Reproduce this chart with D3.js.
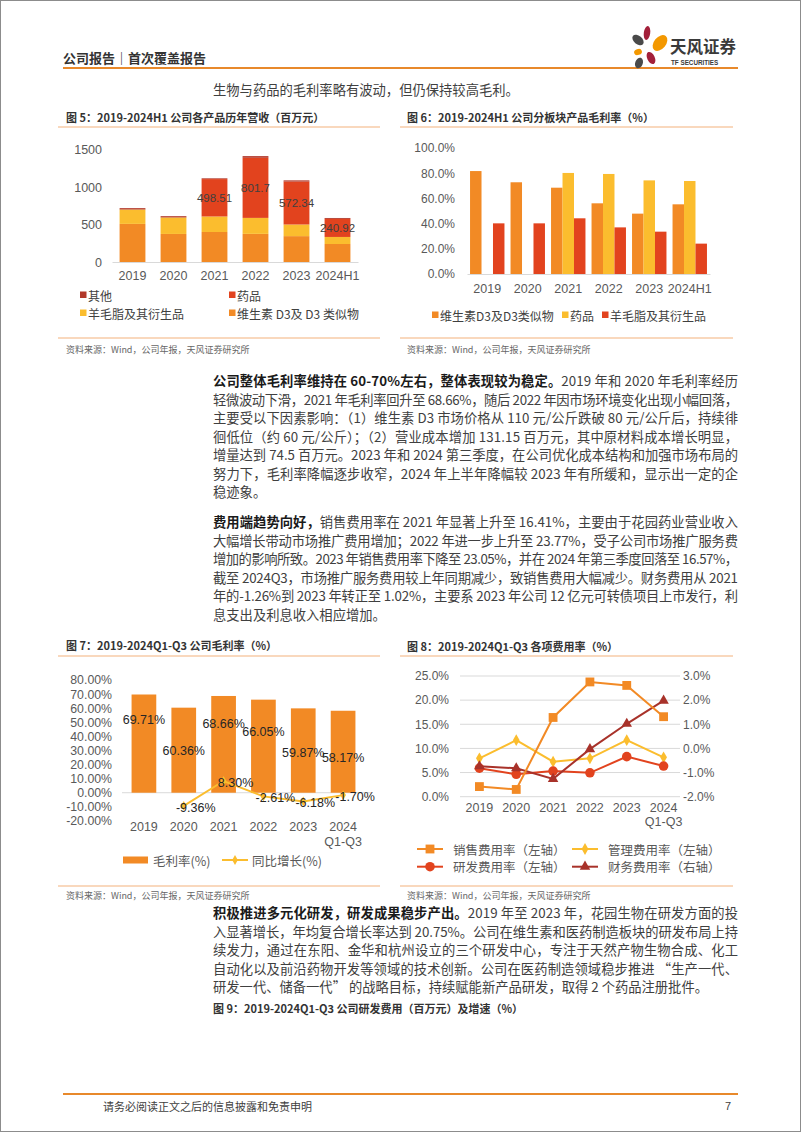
<!DOCTYPE html>
<html><head><meta charset="utf-8">
<script src="https://cdn.jsdelivr.net/npm/d3@7"></script>
<style>
body{margin:0;background:#fff;}
svg{display:block;}
</style></head>
<body><div id="page"></div>
<script>
// ---------- DATA ----------
const revYears = ["2019","2020","2021","2022","2023","2024H1"];
const revD3 = [508, 374, 400, 375, 345, 240];
const revLanolin = [192, 220, 207, 213, 155, 94];
const revDrug = [0, 0, 498.51, 801.7, 572.34, 240.92];
const revOther = [18, 17, 10, 22, 16, 12];
const revTicks = [0, 500, 1000, 1500];

const gmYears = ["2019","2020","2021","2022","2023","2024H1"];
const gmD3 = [81.7, 72.8, 68.5, 56.1, 47.9, 55.3];
const gmDrug = [null, null, 80.2, 79.4, 74.3, 73.8];
const gmLanolin = [40.2, 40.2, 44.2, 37.0, 33.6, 24.1];
const gmTicks = [0, 20, 40, 60, 80, 100];

const gpYears = ["2019","2020","2021","2022","2023","2024\nQ1-Q3"];
const gpRate = [69.71, 60.36, 68.66, 66.05, 59.87, 58.17];
const gpYoy = [null, -9.36, 8.30, -2.61, -6.18, -1.70];
const gpTicks = [-20, -10, 0, 10, 20, 30, 40, 50, 60, 70, 80];

const feeYears = ["2019","2020","2021","2022","2023","2024\nQ1-Q3"];
const feeSales = [2.1, 1.5, 16.41, 23.77, 23.05, 16.57];
const feeAdmin = [7.95, 11.7, 7.25, 7.95, 11.7, 8.15];
const feeRD = [5.9, 4.65, 5.3, 4.95, 8.3, 6.35];
const feeFin = [-0.74, -0.82, -1.26, -0.03, 1.02, 1.98];
const feeLeftTicks = [0, 5, 10, 15, 20, 25];
const feeRightTicks = [-2, -1, 0, 1, 2, 3];

// ---------- STYLE ----------
const LAT = "'Liberation Sans','Noto Sans CJK SC',sans-serif";
const CJK = "'Noto Sans CJK SC','Liberation Sans',sans-serif";
const C = {orange:"#F28A25", yellow:"#FBBD2E", red:"#E2431E", dark:"#B2382A",
           accent:"#E8892B", rule:"#F3B27C", axis:"#D9D9D9", tick:"#595959"};

const svg = d3.select("#page").append("svg").attr("width",802).attr("height",1133);
svg.append("rect").attr("width",802).attr("height",1133).attr("fill","#fff");
svg.append("rect").attr("x",0.5).attr("y",0.5).attr("width",800).attr("height",1131)
  .attr("fill","none").attr("stroke","#8c8c8c");

function txt(x, y, s, o = {}) {
  return svg.append("text").attr("x", x).attr("y", y).attr("dominant-baseline","central")
    .attr("font-family", o.ff || CJK).attr("font-size", o.fs || 12)
    .attr("font-weight", o.fw || "normal").attr("fill", o.fill || "#333")
    .attr("text-anchor", o.anchor || "start").text(s);
}
function hline(x1, x2, y, color, w) {
  svg.append("line").attr("x1",x1).attr("x2",x2).attr("y1",y).attr("y2",y)
    .attr("stroke",color).attr("stroke-width",w);
}

// ---------- HEADER ----------
txt(63, 57, "公司报告｜首次覆盖报告", {fs:13, fill:"#333", fw:"bold"});
hline(63, 738, 68, C.accent, 2);
const logo = svg.append("g");
[
  {cx:647, cy:33, rx:3.2, ry:7, r:8, c:"#A3203A"},
  {cx:660, cy:43, rx:6, ry:9, r:40, c:"#F39800"},
  {cx:638, cy:40, rx:4.2, ry:6.5, r:-50, c:"#4A4A4A"},
  {cx:638, cy:52, rx:4, ry:3, r:-20, c:"#F39800"},
  {cx:651, cy:58, rx:3.8, ry:6.5, r:-25, c:"#A3203A"},
  {cx:639, cy:63, rx:3.8, ry:5.5, r:20, c:"#4A4A4A"}
].forEach(p => logo.append("ellipse").attr("cx",p.cx).attr("cy",p.cy).attr("rx",p.rx).attr("ry",p.ry)
  .attr("transform",`rotate(${p.r},${p.cx},${p.cy})`).attr("fill",p.c));
txt(670, 46, "天风证券", {fs:16.5, fw:"bold", fill:"#3a3a3a"});
txt(671, 62.5, "TF SECURITIES", {fs:6.3, fw:"bold", fill:"#3a3a3a", ff:LAT});

// ---------- PARAGRAPHS ----------
function para(lines, x, y0, lh, width) {
  lines.forEach((ln, i) => {
    const t = svg.append("text").attr("x", x).attr("y", y0 + i*lh).attr("dominant-baseline","central")
      .attr("font-family", CJK).attr("font-size", 13.3).attr("fill", "#404040");
    if (ln.b) t.append("tspan").attr("font-weight","bold").attr("fill","#1a1a1a").text(ln.b);
    t.append("tspan").text(ln.t);
    if (!ln.last) t.attr("textLength", width).attr("lengthAdjust","spacing");
  });
}
para([{t:"生物与药品的毛利率略有波动，但仍保持较高毛利。", last:true}], 213, 89, 18.5, 525);

para([
  {b:"公司整体毛利率维持在 60-70%左右，整体表现较为稳定。", t:"2019 年和 2020 年毛利率经历"},
  {t:"轻微波动下滑，2021 年毛利率回升至 68.66%，随后 2022 年因市场环境变化出现小幅回落，"},
  {t:"主要受以下因素影响：（1）维生素 D3 市场价格从 110 元/公斤跌破 80 元/公斤后，持续徘"},
  {t:"徊低位（约 60 元/公斤）；（2）营业成本增加 131.15 百万元，其中原材料成本增长明显，"},
  {t:"增量达到 74.5 百万元。2023 年和 2024 第三季度，在公司优化成本结构和加强市场布局的"},
  {t:"努力下，毛利率降幅逐步收窄，2024 年上半年降幅较 2023 年有所缓和，显示出一定的企"},
  {t:"稳迹象。", last:true}
], 213, 380, 18.5, 525);

para([
  {b:"费用端趋势向好，", t:"销售费用率在 2021 年显著上升至 16.41%，主要由于花园药业营业收入"},
  {t:"大幅增长带动市场推广费用增加；2022 年进一步上升至 23.77%，受子公司市场推广服务费"},
  {t:"增加的影响所致。2023 年销售费用率下降至 23.05%，并在 2024 年第三季度回落至 16.57%，"},
  {t:"截至 2024Q3，市场推广服务费用较上年同期减少，致销售费用大幅减少。财务费用从 2021"},
  {t:"年的-1.26%到 2023 年转正至 1.02%，主要系 2023 年公司 12 亿元可转债项目上市发行，利"},
  {t:"息支出及利息收入相应增加。", last:true}
], 213, 521, 18.5, 525);

para([
  {b:"积极推进多元化研发，研发成果稳步产出。", t:"2019 年至 2023 年，花园生物在研发方面的投"},
  {t:"入显著增长，年均复合增长率达到 20.75%。公司在维生素和医药制造板块的研发布局上持"},
  {t:"续发力，通过在东阳、金华和杭州设立的三个研发中心，专注于天然产物生物合成、化工"},
  {t:"自动化以及前沿药物开发等领域的技术创新。公司在医药制造领域稳步推进 “生产一代、"},
  {t:"研发一代、储备一代” 的战略目标，持续赋能新产品研发，取得 2 个药品注册批件。", last:true}
], 213, 912, 18.5, 525);

txt(213, 1008, "图 9：2019-2024Q1-Q3 公司研发费用（百万元）及增速（%）", {fs:11, fw:"bold", fill:"#333"});

// ---------- FOOTER ----------
hline(63, 738, 1094, C.accent, 2);
txt(103, 1106, "请务必阅读正文之后的信息披露和免责申明", {fs:11, fill:"#404040"});
txt(731, 1106, "7", {fs:11, fill:"#404040", anchor:"end", ff:LAT});

// ---------- FRAME helpers ----------
function frame(x1, x2, tx, titleY, title, ruleTop, ruleBot, srcY) {
  txt(tx, titleY, title, {fs:11, fw:"bold", fill:"#333"});
  hline(x1, x2, ruleTop, C.rule, 1.2);
  hline(x1, x2, ruleBot, C.rule, 1.2);
  txt(tx, srcY, "资料来源：Wind，公司年报，天风证券研究所", {fs:9, fill:"#666"});
}
function styleAxis(g, fs) {
  g.select(".domain").remove();
  g.selectAll("text").attr("font-family", LAT).attr("font-size", fs).attr("fill", C.tick);
}
function multiLine(g, lh) {
  g.selectAll(".tick text").each(function(d) {
    const parts = String(d).split("\n");
    const t = d3.select(this); t.text(null);
    parts.forEach((p, i) => t.append("tspan").attr("x", 0).attr("dy", i === 0 ? "0.71em" : lh).text(p));
  });
}

// ---------- CHART 5 ----------
frame(58, 380, 66, 117, "图 5：2019-2024H1 公司各产品历年营收（百万元）", 127, 338, 349);
{
  const keys = ["d3","lan","drug","oth"];
  const rows = revYears.map((y,i)=>({year:y, d3:revD3[i], lan:revLanolin[i], drug:revDrug[i], oth:revOther[i]}));
  const colors = {d3:C.orange, lan:C.yellow, drug:C.red, oth:C.dark};
  const x = d3.scaleBand().domain(revYears).range([112,358]).paddingInner(0.37).paddingOuter(0.185);
  const y = d3.scaleLinear().domain([0,1500]).range([262,149.5]);
  const st = d3.stack().keys(keys)(rows);
  const g = svg.append("g");
  st.forEach(s => g.selectAll(null).data(s).join("rect")
    .attr("x", d=>x(d.data.year)).attr("width", x.bandwidth())
    .attr("y", d=>y(d[1])).attr("height", d=>Math.max(0, y(d[0])-y(d[1])))
    .attr("fill", colors[s.key]));
  const drug = st.find(s=>s.key==="drug");
  g.selectAll(null).data(drug.filter(d=>d.data.drug>0)).join("text")
    .attr("x", d=>x(d.data.year)+x.bandwidth()/2).attr("y", d=>y((d[0]+d[1])/2))
    .attr("text-anchor","middle").attr("dominant-baseline","central")
    .attr("font-family",LAT).attr("font-size",11.5).attr("fill","#404040")
    .text(d=>String(d.data.drug));
  const ya = svg.append("g").attr("transform","translate(112,0)")
    .call(d3.axisLeft(y).tickValues(revTicks).tickSize(0).tickPadding(10).tickFormat(d3.format("d")));
  styleAxis(ya, 12.5);
  const xa = svg.append("g").attr("transform","translate(0,262)")
    .call(d3.axisBottom(x).tickSize(0).tickPadding(9));
  xa.select(".domain").attr("stroke",C.axis);
  xa.selectAll("text").attr("font-family",LAT).attr("font-size",12.5).attr("fill",C.tick);
  const leg = [["其他",C.dark,80,295],["药品",C.red,229,295],["羊毛脂及其衍生品",C.yellow,80,313],["维生素 D3及 D3 类似物",C.orange,229,313]];
  leg.forEach(l => {
    svg.append("rect").attr("x",l[2]).attr("y",l[3]-3.5).attr("width",6.5).attr("height",6.5).attr("fill",l[1]);
    txt(l[2]+8, l[3], l[0], {fs:12, fill:"#404040"});
  });
}

// ---------- CHART 6 ----------
frame(400, 733, 407, 117, "图 6：2019-2024H1 公司分板块产品毛利率（%）", 127, 338, 349);
{
  const keys = ["d3","drug","lan"];
  const series = {d3:gmD3, drug:gmDrug, lan:gmLanolin};
  const colors = {d3:C.orange, drug:C.yellow, lan:C.red};
  const x = d3.scaleBand().domain(gmYears).range([467,710]).paddingInner(0.15).paddingOuter(0.075);
  const xi = d3.scaleBand().domain(keys).range([0, x.bandwidth()]);
  const y = d3.scaleLinear().domain([0,100]).range([274,148]);
  const g = svg.append("g");
  keys.forEach(k => g.selectAll(null).data(gmYears.map((yr,i)=>({yr, v:series[k][i]})).filter(d=>d.v!=null))
    .join("rect").attr("x", d=>x(d.yr)+xi(k)).attr("width", xi.bandwidth())
    .attr("y", d=>y(d.v)).attr("height", d=>y(0)-y(d.v)).attr("fill", colors[k]));
  const ya = svg.append("g").attr("transform","translate(465,0)")
    .call(d3.axisLeft(y).tickValues(gmTicks).tickSize(0).tickPadding(10).tickFormat(d=>d.toFixed(1)+"%"));
  styleAxis(ya, 12);
  const xa = svg.append("g").attr("transform","translate(0,274)")
    .call(d3.axisBottom(x).tickSize(0).tickPadding(10));
  xa.select(".domain").attr("stroke",C.axis);
  xa.selectAll("text").attr("font-family",LAT).attr("font-size",12.5).attr("fill",C.tick);
  const leg = [["维生素D3及D3类似物",C.orange,432],["药品",C.yellow,562],["羊毛脂及其衍生品",C.red,602]];
  leg.forEach(l => {
    svg.append("rect").attr("x",l[2]).attr("y",315-3.5).attr("width",6.5).attr("height",6.5).attr("fill",l[1]);
    txt(l[2]+8, 315, l[0], {fs:12, fill:"#404040"});
  });
}

// ---------- CHART 7 ----------
frame(58, 380, 66, 645, "图 7：2019-2024Q1-Q3 公司毛利率（%）", 656, 886, 895);
{
  const x = d3.scaleBand().domain(gpYears).range([124,363]).paddingInner(0.38).paddingOuter(0.19);
  const y = d3.scaleLinear().domain([-20,80]).range([820.9,680]);
  const labelY = d3.scaleLinear().domain([0,100]).range([951,620]);
  const cx = d => x(d) + x.bandwidth()/2;
  const g = svg.append("g");
  g.append("line").attr("x1",x.range()[0]-2).attr("x2",x.range()[1]+8).attr("y1",y(0)).attr("y2",y(0)).attr("stroke",C.axis);
  const rows = gpYears.map((yr,i)=>({yr, v:gpRate[i], yoy:gpYoy[i]}));
  g.selectAll(null).data(rows).join("rect").attr("x",d=>x(d.yr)).attr("width",x.bandwidth())
    .attr("y",d=>y(d.v)).attr("height",d=>y(0)-y(d.v)).attr("fill",C.orange);
  const ly = rows.filter(d=>d.yoy!=null);
  g.append("path").datum(ly).attr("fill","none").attr("stroke",C.yellow).attr("stroke-width",2)
    .attr("d", d3.line().x(d=>cx(d.yr)).y(d=>y(d.yoy)));
  g.selectAll(null).data(ly).join("path").attr("d", d3.symbol(d3.symbolDiamond, 28)())
    .attr("transform", d=>`translate(${cx(d.yr)},${y(d.yoy)})`).attr("fill",C.yellow);
  g.selectAll(null).data(rows).join("text").attr("x",d=>cx(d.yr)).attr("y",d=>labelY(d.v))
    .attr("text-anchor","middle").attr("dominant-baseline","central")
    .attr("font-family",LAT).attr("font-size",12.5).attr("fill","#262626").text(d=>d.v.toFixed(2)+"%");
  g.selectAll(null).data(ly).join("text").attr("x",d=>cx(d.yr)+12).attr("y",d=>y(d.yoy)+2)
    .attr("text-anchor","middle").attr("dominant-baseline","central")
    .attr("font-family",LAT).attr("font-size",12.5).attr("fill","#262626").text(d=>d.yoy.toFixed(2)+"%");
  const ya = svg.append("g").attr("transform","translate(122,0)")
    .call(d3.axisLeft(y).tickValues(gpTicks).tickSize(0).tickPadding(10).tickFormat(d=>d.toFixed(2)+"%"));
  styleAxis(ya, 12.3);
  const xa = svg.append("g").attr("transform",`translate(0,${y(0)})`)
    .call(d3.axisBottom(x).tickSize(0).tickPadding(0));
  xa.select(".domain").remove();
  xa.selectAll(".tick").attr("transform", d=>`translate(${cx(d)},${835.7-4.4-y(0)-8.8})`);
  multiLine(xa, "1.15em");
  xa.selectAll("text").attr("font-family",LAT).attr("font-size",12.5).attr("fill",C.tick);
  svg.append("rect").attr("x",123).attr("y",856.5).attr("width",25).attr("height",7).attr("fill",C.orange);
  txt(153, 860, "毛利率(%)", {fs:12.5, fill:C.tick});
  hline(222, 248, 860, C.yellow, 2);
  svg.append("path").attr("d", d3.symbol(d3.symbolDiamond, 28)()).attr("transform","translate(235,860)").attr("fill",C.yellow);
  txt(252, 860, "同比增长(%)", {fs:12.5, fill:C.tick});
}

// ---------- CHART 8 ----------
frame(400, 733, 407, 646, "图 8：2019-2024Q1-Q3 各项费用率（%）", 656, 886, 895);
{
  const x = d3.scaleBand().domain(feeYears).range([461,682]);
  const cx = d => x(d) + x.bandwidth()/2;
  const yL = d3.scaleLinear().domain([0,25]).range([796.7,676]);
  const yR = d3.scaleLinear().domain([-2,3]).range([796.7,676]);
  const g = svg.append("g");
  g.selectAll(null).data(feeLeftTicks).join("line").attr("x1",460).attr("x2",680)
    .attr("y1",d=>yL(d)).attr("y2",d=>yL(d)).attr("stroke",C.axis);
  const sets = [
    {vals:feeSales, y:yL, c:C.orange, sym:d3.symbolSquare, size:78, name:"销售费用率（左轴）"},
    {vals:feeAdmin, y:yL, c:C.yellow, sym:d3.symbolDiamond, size:40, name:"管理费用率（左轴）"},
    {vals:feeRD, y:yL, c:C.red, sym:d3.symbolCircle, size:72, name:"研发费用率（左轴）"},
    {vals:feeFin, y:yR, c:"#A8322A", sym:d3.symbolTriangle, size:48, name:"财务费用率（右轴）"}
  ];
  const drawOrder = [1,2,3,0];
  drawOrder.forEach(si => {
    const s = sets[si];
    const pts = feeYears.map((yr,i)=>({yr, v:s.vals[i]}));
    g.append("path").datum(pts).attr("fill","none").attr("stroke",s.c).attr("stroke-width",2)
      .attr("d", d3.line().x(d=>cx(d.yr)).y(d=>s.y(d.v)));
    g.selectAll(null).data(pts).join("path").attr("d", d3.symbol(s.sym, s.size)())
      .attr("transform", d=>`translate(${cx(d.yr)},${s.y(d.v)})`).attr("fill",s.c);
  });
  const ya = svg.append("g").attr("transform","translate(460,0)")
    .call(d3.axisLeft(yL).tickValues(feeLeftTicks).tickSize(0).tickPadding(11).tickFormat(d=>d.toFixed(1)+"%"));
  styleAxis(ya, 12);
  const yb = svg.append("g").attr("transform","translate(680,0)")
    .call(d3.axisRight(yR).tickValues(feeRightTicks).tickSize(0).tickPadding(3).tickFormat(d=>d.toFixed(1)+"%"));
  styleAxis(yb, 12);
  const xa = svg.append("g").attr("transform","translate(0,0)")
    .call(d3.axisBottom(x).tickSize(0).tickPadding(0));
  xa.select(".domain").remove();
  xa.selectAll(".tick").attr("transform", d=>`translate(${cx(d)},${811.7-4.4-8.8+4.4})`);
  multiLine(xa, "1.15em");
  xa.selectAll("text").attr("font-family",LAT).attr("font-size",12.5).attr("fill",C.tick);
  const pos = [[417,849],[572,849],[417,866.7],[572,866.7]];
  sets.forEach((s,i) => {
    const [lx, lyy] = pos[i];
    hline(lx, lx+26, lyy, s.c, 2);
    svg.append("path").attr("d", d3.symbol(s.sym, s.size)()).attr("transform",`translate(${lx+13},${lyy})`).attr("fill",s.c);
    txt(lx+36, lyy, s.name, {fs:12.5, fill:C.tick});
  });
}
</script>
</body></html>
